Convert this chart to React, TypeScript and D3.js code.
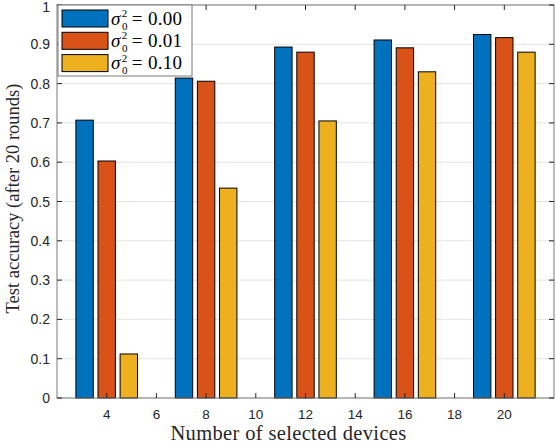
import React from 'react';
import * as d3 from 'd3';

// Number of selected devices (group positions)
const devices = [4, 8, 12, 16, 20];
// Noise variance settings (legend)
const noiseLabels = ['0.00', '0.01', '0.10'];
// Test accuracy per noise level, one value per device count
const accNoise000 = [0.707, 0.814, 0.893, 0.911, 0.925];
const accNoise001 = [0.603, 0.806, 0.880, 0.891, 0.917];
const accNoise010 = [0.112, 0.534, 0.705, 0.830, 0.880];
const xTicks = [4, 6, 8, 10, 12, 14, 16, 18, 20];
const yTicks = [0, 0.1, 0.2, 0.3, 0.4, 0.5, 0.6, 0.7, 0.8, 0.9, 1];

const series = [accNoise000, accNoise001, accNoise010];
const colors = ['#0072BD', '#D95319', '#EDB120'];

const W = 556;
const H = 444;
const margin = { top: 5, right: 2, bottom: 46, left: 57 };

export default function App() {
  const x = d3.scaleLinear().domain([2, 22]).range([margin.left, W - margin.right]);
  const y = d3.scaleLinear().domain([0, 1]).range([H - margin.bottom, margin.top]);
  const offset = 0.89; // group offset in x units
  const barW = x(0.7) - x(0);
  const axisColor = '#262626';
  const tickFont = 'Liberation Sans, Arial, sans-serif';
  const serif = 'Liberation Serif, Times New Roman, serif';

  return (
    <svg width={W} height={H} style={{ position: 'absolute', left: 0, top: 0, background: '#fff' }}>
      {/* grid */}
      {yTicks.map(t => (
        <line key={'gy' + t} x1={x(2)} x2={x(22)} y1={y(t)} y2={y(t)} stroke="#e3e3e3" strokeWidth={1} />
      ))}
      {/* bars */}
      {devices.map((d, i) =>
        series.map((s, j) => (
          <rect
            key={`b${i}-${j}`}
            x={x(d + (j - 1) * offset) - barW / 2}
            y={y(s[i])}
            width={barW}
            height={y(0) - y(s[i])}
            fill={colors[j]}
            stroke="#000"
            strokeWidth={1}
          />
        ))
      )}
      {/* axes box */}
      <rect x={x(2)} y={y(1)} width={x(22) - x(2)} height={y(0) - y(1)} fill="none" stroke="#7a7a7a" strokeWidth={1} />
      {/* x ticks */}
      {xTicks.map(t => (
        <g key={'xt' + t}>
          <line x1={x(t)} x2={x(t)} y1={y(0)} y2={y(0) - 5} stroke={axisColor} />
          <line x1={x(t)} x2={x(t)} y1={y(1)} y2={y(1) + 5} stroke={axisColor} />
          <text x={x(t)} y={y(0) + 20.5} textAnchor="middle" fontFamily={tickFont} fontSize={13.5} fill={axisColor}>
            {t}
          </text>
        </g>
      ))}
      {/* y ticks */}
      {yTicks.map(t => (
        <g key={'yt' + t}>
          <line x1={x(2)} x2={x(2) + 5} y1={y(t)} y2={y(t)} stroke={axisColor} />
          <line x1={x(22)} x2={x(22) - 5} y1={y(t)} y2={y(t)} stroke={axisColor} />
          <text x={x(2) - 7} y={Math.max(y(t) + 5, 12)} textAnchor="end" fontFamily={tickFont} fontSize={14} fill={axisColor}>
            {d3.format('.1~f')(t)}
          </text>
        </g>
      ))}
      {/* axis labels */}
      <text
        x={(x(2) + x(22)) / 2 - 17}
        y={H - 4}
        textAnchor="middle"
        fontFamily={serif}
        fontSize={20.5}
        letterSpacing={0.35}
        fill={axisColor}
      >
        Number of selected devices
      </text>
      <text
        transform={`translate(19,${(y(0) + y(1)) / 2 - 3}) rotate(-90)`}
        textAnchor="middle"
        fontFamily={serif}
        fontSize={18.5}
        fill={axisColor}
      >
        Test accuracy (after 20 rounds)
      </text>
      {/* legend */}
      <g transform={`translate(${x(2) + 1},${y(1)})`}>
        <rect x={0} y={0} width={134} height={71} fill="#fff" stroke="#7a7a7a" strokeWidth={1} />
        {noiseLabels.map((lab, j) => (
          <g key={'lg' + j} transform={`translate(0,${5 + j * 22.3})`}>
            <rect x={4} y={0} width={46} height={17} fill={colors[j]} stroke="#000" strokeWidth={1} />
            <text x={53} y={14.5} fontFamily={serif} fontSize={19} letterSpacing={0.3} fill="#000">
              <tspan fontStyle="italic">σ</tspan>
              <tspan dx={1} dy={-7.5} fontSize={11}>2</tspan>
              <tspan dx={-5.5} dy={12.5} fontSize={11}>0</tspan>
              <tspan dx={4} dy={-5}>= {lab}</tspan>
            </text>
          </g>
        ))}
      </g>
    </svg>
  );
}
